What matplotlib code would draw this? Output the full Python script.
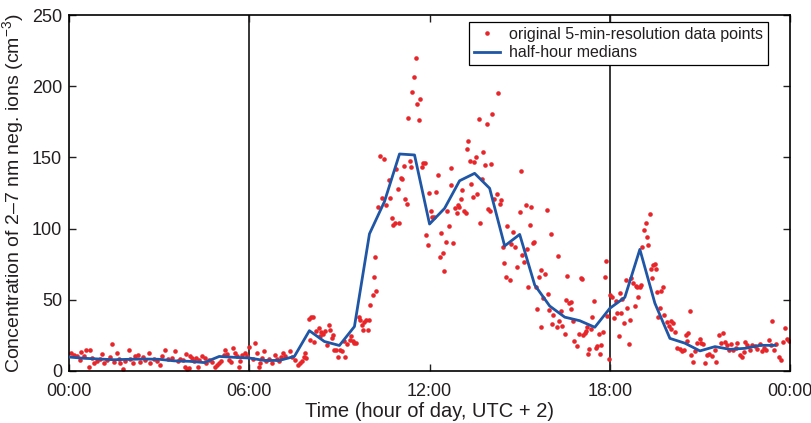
import numpy as np
import matplotlib
matplotlib.use("Agg")
import matplotlib.pyplot as plt

plt.rcParams['font.family'] = ['Liberation Sans', 'DejaVu Sans']
plt.rcParams['mathtext.fontset'] = 'custom'
plt.rcParams['mathtext.rm'] = 'Liberation Sans'
plt.rcParams['mathtext.default'] = 'regular'

TEXT = '#231f20'
RED = '#e8262a'
BLUE = '#1f56a5'

# 5-min data: minute of day and concentration (cm^-3)
dot_minutes = [
    3, 10, 15, 21, 23, 29, 34, 39, 41, 45, 50, 55, 61, 65, 70, 75, 82, 86, 90, 95,
    99, 102, 107, 112, 119, 122, 127, 132, 137, 142, 147, 152, 159, 162, 169, 175, 181, 185, 192, 197,
    205, 212, 217, 222, 227, 232, 233, 235, 239, 242, 245, 249, 253, 257, 260, 265, 271, 273, 279, 285,
    291, 295, 299, 304, 309, 312, 315, 319, 324, 327, 331, 335, 339, 342, 345, 351, 355, 359, 367, 371,
    375, 379, 382, 385, 389, 393, 399, 405, 411, 415, 419, 424, 427, 432,
    442, 445, 452, 457, 461, 465, 469, 472, 474, 479, 482, 483, 487, 490, 494, 499, 501, 503, 507, 512,
    515, 519, 522, 525, 527, 530, 534, 537, 541, 545, 549, 552, 555, 561, 563, 567, 570, 574, 579, 581,
    585, 587, 590, 594, 597, 599, 602, 607, 610, 612, 614, 617,
    622, 625, 629, 634, 639, 641, 645, 647, 652, 654, 657, 659, 662, 665, 669, 670, 674, 677, 681, 683,
    685, 689, 692, 694, 699, 701, 705, 707, 711, 713, 717, 719, 723, 725, 729, 732, 737, 741, 743, 746,
    749, 752, 755, 759, 762, 763, 767, 770, 774, 777, 779, 782, 785, 789, 792, 794, 797, 801, 803, 806,
    809, 812, 815, 819, 821,
    825, 827, 830, 834, 837, 841, 842, 845, 849, 854, 857, 861, 863, 866, 869, 872, 875, 880, 882, 887,
    890, 894, 901, 902, 905, 909, 912, 914, 917, 921, 923, 927, 929, 932, 935, 939, 942, 943, 947, 950,
    954, 957, 959, 962, 965, 967, 974, 976, 978, 983, 985, 990, 992, 995, 999, 1002,
    1003, 1007, 1009, 1014, 1019, 1022, 1025, 1026, 1030, 1032, 1035, 1037, 1039, 1042, 1045, 1049, 1052, 1055, 1059, 1061,
    1063, 1067, 1070, 1072, 1075, 1079, 1081, 1085, 1089, 1092, 1094, 1099, 1101, 1103, 1105, 1109, 1112, 1115, 1119, 1121,
    1122, 1127, 1130, 1132, 1134, 1137, 1141, 1142, 1145, 1149, 1152, 1154, 1157, 1161, 1163, 1165, 1167, 1170, 1172, 1175,
    1177, 1181, 1183, 1187, 1189, 1194, 1199, 1202, 1203, 1207, 1210, 1214, 1221, 1225, 1229, 1232, 1235, 1237, 1241, 1243,
    1247, 1250, 1255, 1261, 1263, 1267, 1270, 1274, 1279, 1285, 1290, 1292, 1299, 1303, 1307, 1310, 1314, 1319, 1323, 1327,
    1332, 1335, 1339, 1343, 1347, 1350, 1354, 1359, 1363, 1369, 1374, 1379, 1383, 1387, 1392, 1397, 1401, 1403, 1407, 1412,
    1417, 1421, 1425, 1430, 1434, 1437,
]
dot_values = [
    12.6, 11.4, 10.2, 7.4, 13.1, 10.2, 15.0, 3.1, 14.5, 9.0, 5.5, 6.7, 8.3, 12.1, 5.5, 7.9, 9.8, 18.6, 6.0, 12.6,
    8.3, 5.5, 1.2, 6.7, 15.0, 8.3, 5.5, 10.2, 11.4, 6.0, 9.8, 7.9, 12.6, 5.5, 8.3, 6.7, 4.3, 10.7, 14.5, 8.3,
    9.0, 13.8, 6.7, 8.3, 7.4, 3.1, 12.1, 1.2, 1.9, 10.2, 9.0, 6.7, 9.0, 3.1, 7.4, 10.2, 9.0, 5.5, 7.9, 6.0,
    3.1, 4.3, 5.5, 6.7, 11.4, 15.0, 12.1, 7.9, 6.0, 16.2, 12.6, 10.2, 3.1, 6.7, 11.4, 12.6, 10.2, 16.9, 8.3, 19.3,
    12.6, 3.1, 5.5, 9.0, 13.8, 6.7, 8.3, 5.5, 11.4, 8.3, 6.7, 9.8, 12.6, 10.7,
    13.8, 9.8, 7.9, 4.3, 5.9, 6.7, 9.8, 12.6, 9.0, 36.5, 21.7, 37.7, 38.1, 20.2, 28.1, 30.5, 24.5, 27.4, 25.7, 28.1,
    17.9, 32.1, 28.8, 23.3, 25.0, 15.0, 15.0, 9.8, 15.0, 13.8, 20.9, 9.8, 18.6, 22.1, 24.5, 20.9, 19.3, 19.3, 38.1, 35.8,
    32.3, 28.8, 34.6, 35.8, 28.8, 35.8, 46.3, 53.4, 66.3, 79.8, 56.4, 114.9,
    151.0, 121.2, 148.6, 116.6, 134.1, 121.2, 107.1, 102.5, 103.7, 141.6, 127.6, 103.7, 135.3, 134.6, 143.9, 120.5, 117.3, 177.4, 147.6, 143.4,
    196.1, 206.2, 219.5, 187.5, 176.3, 190.7, 143.0, 145.8, 145.8, 95.4, 88.5, 125.2, 112.6, 108.3, 108.3, 125.9, 137.6, 79.8, 96.6, 83.1,
    70.5, 90.8, 112.6, 101.8, 130.6, 142.3, 89.6, 114.2, 110.7, 116.6, 115.4, 120.5, 127.1, 112.6, 110.7, 155.6, 161.7, 147.6, 131.3, 122.4,
    147.0, 150.0, 124.2, 176.7, 104.1,
    134.6, 154.0, 144.6, 173.4, 113.5, 112.6, 145.4, 180.5, 120.5, 124.2, 195.4, 117.3, 120.0, 86.8, 76.1, 66.3, 101.8, 63.9, 89.2, 97.8,
    86.8, 73.2, 111.7, 140.7, 81.5, 76.8, 116.6, 85.4, 59.2, 102.5, 114.9, 90.1, 90.8, 58.8, 43.3, 65.8, 70.9, 31.2, 51.0, 68.1,
    113.0, 53.9, 42.9, 96.2, 33.3, 39.3, 31.2, 80.7, 34.8, 42.4, 31.7, 25.7, 49.8, 66.7, 48.0, 43.3,
    48.7, 35.2, 20.9, 17.4, 25.7, 65.6, 64.9, 25.0, 26.9, 28.1, 31.2, 12.1, 15.5, 29.3, 37.6, 49.3, 16.2, 17.4, 25.7, 12.1,
    17.9, 27.4, 65.8, 77.5, 38.3, 8.3, 53.4, 52.2, 36.9, 49.3, 41.0, 24.5, 54.6, 41.0, 50.3, 33.6, 63.9, 44.0, 18.6, 35.9,
    65.1, 61.5, 45.6, 59.7, 58.8, 51.7, 58.8, 60.4, 87.3, 99.0, 104.1, 93.9, 88.3, 110.2, 71.4, 65.1, 74.4, 75.1, 71.4, 55.7,
    37.6, 44.0, 56.4, 58.8, 39.3, 34.5, 31.7, 29.8, 35.2, 33.6, 27.4, 16.2, 15.5, 13.8, 15.0, 25.0, 20.9, 26.4, 42.4, 11.4,
    6.0, 13.8, 19.3, 22.6, 19.3, 18.6, 5.5, 11.4, 12.1, 10.7, 15.0, 6.0, 25.0, 19.8, 26.4, 20.2, 17.9, 15.0, 18.6, 14.5,
    16.2, 19.3, 11.4, 9.8, 13.1, 20.2, 17.9, 15.0, 17.9, 17.4, 15.5, 18.6, 13.8, 16.2, 14.5, 22.1, 17.9, 35.2, 15.0, 18.6,
    9.8, 7.4, 20.2, 30.5, 22.6, 20.9,
]

# half-hour medians, starting at 00:00
median_hours = np.arange(0, 24, 0.5)
median_values = [
    9.8, 8.9, 8.4, 7.9, 8.2, 8.4, 8.2, 7.1, 6.8, 5.9,
    10.2, 9.6, 9.1, 7.4, 7.4, 10.2, 28.3, 20.7, 17.9, 31.2,
    96.3, 119.0, 152.4, 151.7, 103.2, 114.2, 133.6, 138.8, 128.3, 87.8,
    95.9, 60.4, 45.6, 37.8, 35.3, 30.7, 44.0, 51.7, 85.4, 47.6,
    22.9, 19.5, 14.1, 17.1, 15.2, 15.9, 18.0, 18.0,
]

x_ticks = [0, 6, 12, 18, 24]
x_tick_labels = ['00:00', '06:00', '12:00', '18:00', '00:00']
y_ticks = [0, 50, 100, 150, 200, 250]

fig = plt.figure(figsize=(8.12, 4.23), dpi=100)
ax = fig.add_axes([0.085, 0.123, 0.888, 0.8415])

ax.axvline(6, color='k', lw=1.1, zorder=1)
ax.axvline(18, color='k', lw=1.1, zorder=1)

ax.plot(np.array(dot_minutes) / 60, dot_values, 'o', color=RED, ms=3.3, mec='none',
        label='original 5-min-resolution data points', zorder=2)
ax.plot(median_hours, median_values, color=BLUE, lw=2.0,
        label='half-hour medians', zorder=3)

ax.set_xlim(0, 24)
ax.set_ylim(0, 250)
ax.set_xticks(x_ticks)
ax.set_xticklabels(x_tick_labels)
ax.set_yticks(y_ticks)
ax.tick_params(direction='in', length=5, width=1, top=True, right=True,
               labelsize=13, colors=TEXT)
ax.tick_params(axis='x', pad=9)
ax.tick_params(axis='y', pad=5)
for s in ax.spines.values():
    s.set_linewidth(1.2)
    s.set_color('k')

ax.set_xlabel('Time (hour of day, UTC + 2)', fontsize=14.5, color=TEXT, labelpad=1)
ax.set_ylabel('Concentration of 2–7 nm neg. ions (cm$^{-3}$)', fontsize=14,
              color=TEXT, labelpad=4)

leg = ax.legend(loc='upper right', bbox_to_anchor=(0.9695, 0.98), borderaxespad=0,
                fancybox=False, edgecolor='k', framealpha=1, fontsize=11.5,
                handlelength=1.6, handletextpad=0.6, labelspacing=0.2,
                borderpad=0.3, numpoints=1)
leg.get_frame().set_linewidth(0.9)
for t in leg.get_texts():
    t.set_color(TEXT)

fig.savefig('out.png', dpi=100)
